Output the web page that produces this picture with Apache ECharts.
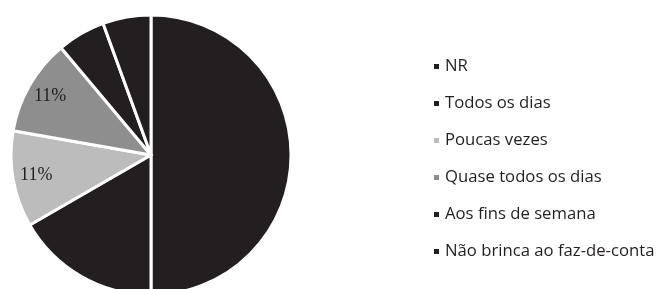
<!DOCTYPE html>
<html>
	<head>
		<meta charset="UTF-8">
		<title></title>
		<script src="https://cdn.jsdelivr.net/npm/echarts@6/dist/echarts.min.js" type="text/javascript" charset="utf-8"></script>
		<style>
			html, body { margin: 0; padding: 0; background: #fff; }
		</style>
	</head>
	<body>
		<div id="chart" style="width: 657px;height: 289px;"></div>
		<script type="text/javascript">
			// categorias e contagens (fatias a partir das 12h, sentido horário)
			var categories = ['NR', 'Todos os dias', 'Poucas vezes', 'Quase todos os dias', 'Aos fins de semana', 'Não brinca ao faz-de-conta'];
			var counts = [9, 3, 2, 2, 1, 1];
			// só as percentagens das fatias cinzentas ficam legíveis
			var showPct = [false, false, true, true, false, false];

			var colors = ['#231f20', '#231f20', '#bcbcbc', '#8e8e8e', '#231f20', '#231f20'];

			var chart = echarts.init(document.getElementById('chart'));

			var pieData = categories.map(function (name, i) {
				return {value: counts[i], name: name, itemStyle: {color: colors[i]}};
			});
			var labelData = categories.map(function (name, i) {
				return {
					value: counts[i],
					name: name,
					label: {show: showPct[i]}
				};
			});

			var option = {
				animation: false,
				tooltip: {show: false},
				legend: {
					orient: 'vertical',
					left: 427,
					top: 53,
					icon: 'rect',
					itemWidth: 7,
					itemHeight: 7,
					itemGap: 20,
					selectedMode: false,
					data: categories,
					textStyle: {
						fontFamily: 'Open Sans',
						fontSize: 16.7,
						lineHeight: 17,
						color: '#231f20'
					}
				},
				series: [
					{
						type: 'pie',
						center: [151, 155],
						radius: 140,
						startAngle: 90,
						clockwise: true,
						silent: true,
						label: {show: false},
						labelLine: {show: false},
						itemStyle: {borderColor: '#fff', borderWidth: 3},
						data: pieData
					},
					{
						// série invisível só para pôr o rótulo perto da borda
						type: 'pie',
						center: [151, 155],
						radius: [87, 140],
						startAngle: 90,
						clockwise: true,
						silent: true,
						legendHoverLink: false,
						itemStyle: {color: 'rgba(0,0,0,0)'},
						labelLine: {show: false},
						label: {
							position: 'inside',
							formatter: function (p) {
								return Math.round(p.percent) + '%';
							},
							fontFamily: 'Liberation Serif',
							fontSize: 18,
							color: '#231f20'
						},
						data: labelData
					}
				]
			};
			chart.setOption(option);
		</script>
	</body>
</html>
